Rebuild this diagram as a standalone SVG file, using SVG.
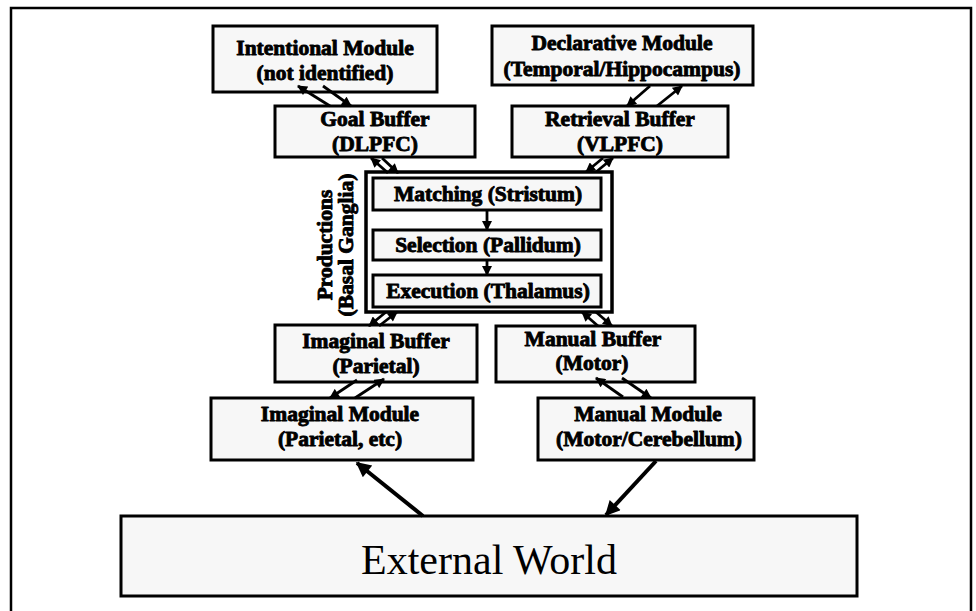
<svg xmlns="http://www.w3.org/2000/svg" width="976" height="611" viewBox="0 0 976 611">
<defs>
<marker id="ah" viewBox="0 0 10 10" refX="9" refY="5" markerWidth="11" markerHeight="10" markerUnits="userSpaceOnUse" orient="auto">
<path d="M0,0 L10,5 L0,10 z" fill="#000"/>
</marker>
<marker id="ahb" viewBox="0 0 10 10" refX="9" refY="5" markerWidth="17" markerHeight="15" markerUnits="userSpaceOnUse" orient="auto">
<path d="M0,0 L10,5 L0,10 z" fill="#000"/>
</marker>
</defs>
<style>
.box{fill:#f7f7f7;stroke:#000;stroke-width:3}
.t{font-family:"Liberation Serif","Times New Roman",serif;font-weight:bold;font-size:21.5px;fill:#000;stroke:#000;stroke-width:0.9;stroke-linejoin:round;text-anchor:middle}
.big{font-family:"Liberation Serif","Times New Roman",serif;font-size:42px;fill:#000;text-anchor:middle}
.a{stroke:#000;stroke-width:2.8;fill:none;marker-end:url(#ah)}
.ab{stroke:#000;stroke-width:4;fill:none;marker-end:url(#ahb)}
</style>
<rect width="976" height="611" fill="#fff"/>
<path d="M11,620 L11,8 L971,8 L971,620" fill="none" stroke="#000" stroke-width="2.5"/>

<g id="intentional">
<rect class="box" x="213" y="26" width="224" height="66"/>
<text class="t" x="325" y="55">Intentional Module</text>
<text class="t" x="325" y="80">(not identified)</text>
</g>
<g id="declarative">
<rect class="box" x="492" y="26" width="261" height="59"/>
<text class="t" x="622" y="50">Declarative Module</text>
<text class="t" x="622" y="76">(Temporal/Hippocampus)</text>
</g>
<g id="goal">
<rect class="box" x="275" y="106" width="200" height="51"/>
<text class="t" x="375" y="126">Goal Buffer</text>
<text class="t" x="375" y="151">(DLPFC)</text>
</g>
<g id="retrieval">
<rect class="box" x="512" y="106" width="216" height="51"/>
<text class="t" x="620" y="126">Retrieval Buffer</text>
<text class="t" x="620" y="151">(VLPFC)</text>
</g>
<g id="productions">
<rect x="366" y="172" width="246" height="140" fill="#fff" stroke="#000" stroke-width="3.5"/>
<text class="t" transform="translate(332,245) rotate(-90)">Productions</text>
<text class="t" transform="translate(353,245) rotate(-90)">(Basal Ganglia)</text>
</g>
<g id="matching">
<rect class="box" x="373" y="178" width="228" height="32"/>
<text class="t" x="488" y="201">Matching (Stristum)</text>
</g>
<g id="selection">
<rect class="box" x="373" y="230" width="228" height="30"/>
<text class="t" x="488" y="252">Selection (Pallidum)</text>
</g>
<g id="execution">
<rect class="box" x="373" y="275" width="228" height="32"/>
<text class="t" x="488" y="298">Execution (Thalamus)</text>
</g>
<g id="imaginalbuffer">
<rect class="box" x="275" y="325" width="202" height="57"/>
<text class="t" x="376" y="348">Imaginal Buffer</text>
<text class="t" x="376" y="373">(Parietal)</text>
</g>
<g id="manualbuffer">
<rect class="box" x="496" y="326" width="199" height="56"/>
<text class="t" x="593" y="346">Manual Buffer</text>
<text class="t" x="592" y="370">(Motor)</text>
</g>
<g id="imaginalmodule">
<rect class="box" x="211" y="398" width="262" height="62"/>
<text class="t" x="340" y="421">Imaginal Module</text>
<text class="t" x="340" y="446">(Parietal, etc)</text>
</g>
<g id="manualmodule">
<rect class="box" x="538" y="398" width="216" height="62"/>
<text class="t" x="648" y="421">Manual Module</text>
<text class="t" x="649" y="446">(Motor/Cerebellum)</text>
</g>
<g id="external">
<rect class="box" x="121" y="516" width="736" height="80"/>
<text class="big" x="489" y="574">External World</text>
</g>

<g id="connectors">
<line class="a" x1="330" y1="106" x2="298" y2="86"/>
<line class="a" x1="323" y1="86" x2="351" y2="106"/>
<line class="a" x1="650" y1="86" x2="627" y2="106"/>
<line class="a" x1="657" y1="106" x2="682" y2="86"/>
<line class="a" x1="388" y1="173" x2="371" y2="158"/>
<line class="a" x1="382" y1="158" x2="398" y2="173"/>
<line class="a" x1="603" y1="158" x2="586" y2="172"/>
<line class="a" x1="596" y1="172" x2="613" y2="158"/>
<line class="a" x1="386" y1="312" x2="369" y2="326"/>
<line class="a" x1="379" y1="326" x2="397" y2="312"/>
<line class="a" x1="598" y1="326" x2="582" y2="312"/>
<line class="a" x1="596" y1="312" x2="612" y2="326"/>
<line class="a" x1="357" y1="380" x2="330" y2="398"/>
<line class="a" x1="355" y1="398" x2="384" y2="379"/>
<line class="a" x1="623" y1="397" x2="596" y2="378"/>
<line class="a" x1="622" y1="378" x2="651" y2="398"/>
<line class="a" x1="487" y1="210" x2="487" y2="230"/>
<line class="a" x1="487" y1="260" x2="487" y2="275"/>
<line class="ab" x1="423" y1="516" x2="357" y2="463"/>
<line class="ab" x1="656" y1="461" x2="606" y2="515"/>
</g>
</svg>
